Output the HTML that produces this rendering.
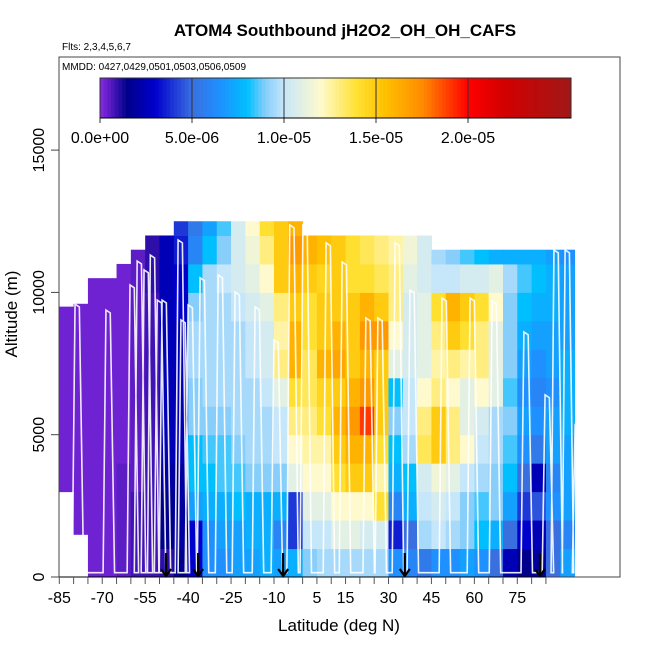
<!DOCTYPE html>
<html><head><meta charset="utf-8"><style>
body{margin:0;background:#fff}
svg{display:block;font-family:"Liberation Sans",sans-serif}
</style></head><body>
<svg id="chart" width="650" height="650" xmlns="http://www.w3.org/2000/svg">
<text x="345" y="36" text-anchor="middle" font-size="17" font-weight="bold">ATOM4 Southbound jH2O2_OH_OH_CAFS</text>
<text x="62" y="50" font-size="10">Flts: 2,3,4,5,6,7</text>
<g id="heat"></g>
<g id="track"></g>
<g id="arrows"></g>
<rect x="59" y="57" width="561" height="520" fill="none" stroke="#444" stroke-width="1"/>
<text x="62" y="70" font-size="10">MMDD: 0427,0429,0501,0503,0506,0509</text>
<g id="cbar"></g>
<g id="xaxis"></g>
<g id="yaxis"></g>
<text x="339" y="631" text-anchor="middle" font-size="17">Latitude (deg N)</text>
<text transform="translate(17,314) rotate(-90)" text-anchor="middle" font-size="17">Altitude (m)</text>
</svg>
<script>
const latStart = [-85,-80,-75,-70,-65,-60,-55,-50,-45,-40,-35,-30,-25,-20,-15,-10,-5,0,5,10,15,20,25,30,35,40,45,50,55,60,65,70,75,80,85,90];
const colTop = [9500,9600,10500,10500,11000,11500,12000,12000,12500,12500,12500,12500,12500,12500,12500,12500,12500,12000,12000,12000,12000,12000,12000,12000,12000,12000,11500,11500,11500,11500,11500,11500,11500,11500,11500,11500];
const colBot = [3000,1500,0,0,0,0,0,0,0,0,0,0,0,0,0,0,0,0,0,0,0,0,0,0,0,0,0,0,0,0,0,0,0,0,0,0];
const rowBase = [0,1000,2000,3000,4000,5000,6000,7000,8000,9000,10000,11000,12000];
const row0=[.3,.3,.3,.3,.5,.8,.8,1,1.5,3,6.5,6.5,7,7,7.5,7,7.5,9,9.5,9.5,9.5,9.5,9.5,6.5,6,5.5,6.5,6.5,7,6.5,5,2.5,1.5,2,5,7];
const row1=[.3,.3,.3,.3,.5,.8,.8,1.5,2,3,6.5,7,7,7.5,7.5,6,4,10,10,11,11,10.5,10.5,3.5,5,9.5,10,9.5,9,8,7.5,5,3,2.5,5,6];
const row2=[.3,.3,.3,.3,.5,.8,.8,1.5,2,7,7.5,7.5,8,7.5,7.5,7.5,4,11,11,12,12,12,14,6,7.5,10,10.5,10,9,8.5,9,7,4,4.5,6.5,7];
const row3=[.3,.3,.3,.3,.5,.5,.8,2,2,8,8,8.5,8.5,9,9,9,11,12,12,14,15,15,12.5,7.5,8,10.5,11.5,11,10,9.5,9,8,5,2.5,6,7];
const row4=[.3,.3,.3,.3,.3,.5,.8,2.5,2.5,8,8.5,8.5,9,9.5,9.5,10,12,12.5,12.5,15,16,16,14,8,9.5,13.5,15,13,12,10,9.5,8.5,6.5,5.5,7,7];
const row5=[.3,.3,.3,.3,.3,.5,.8,2.5,2.5,9,9,9,9.5,9.5,9.5,10,13,13,14,16,17,19,15,9,10,13,15,13,11,10.5,9.5,9,7,6.5,7,7.5];
const row6=[.3,.3,.3,.3,.3,.5,.8,2.5,2.5,9,9.5,9.5,9.5,9.5,10,11,14,13.5,14.5,15,16,17,15,8,10,12,13,12,11,12,11,8.5,6.5,6,6.5,7.5];
const row7=[.3,.3,.3,.3,.3,.5,.8,2.5,2.5,9.5,9.5,9.5,9.5,10,10.5,13,16,13.5,16,16.5,15,16,15,11,10.5,11,12.5,13,12.5,13,11,9,7,6.5,7,7.5];
const row8=[.3,.3,.3,.3,.3,.5,.8,2.5,2.5,9.5,9.5,9.5,9.5,10,10.5,12.5,16,14,15,16,15,17,17,12,10.5,11,13,15,14,13,11,9,7.5,7,7,7];
const row9=[.3,.3,.3,.3,.3,.5,.8,2.5,3,9,9.5,9.5,10,10.5,11,13,15,14,15,15,15,16,15,13,10.5,11,14,16,15,14,12,9,8,7.5,7.5,7];
const row10=[.3,.3,.3,.3,.3,.5,1,2.5,3,8,9.5,10,10.5,11,12,15,16,15,14.5,15,14,14,13.5,13,11,10.5,10,10,10.5,10.5,11,9.5,8.5,8,7.5,7];
const row11=[.3,.3,.3,.3,.3,.5,1,2.5,3.5,6,8,9,10.5,11.5,13,15,17,16,15.5,15,14,13.5,13,12.5,11.5,10.5,9.5,9,8.5,8,7.5,7.5,7.5,7.5,7,6.5];
const row12=[.3,.3,.3,.3,.3,.5,1.2,2.5,4,5.5,7,8.5,10.5,12,14,15,16,15,14.5,13.5,13,13,13,12,11.5,11,10,9,8.5,8,7.5,7.5,7.5,7.5,7,6.5];
const rows=[row0,row1,row2,row3,row4,row5,row6,row7,row8,row9,row10,row11,row12];
const trackLat=[-79.5,-68.7,-60.3,-57.8,-55.4,-53.2,-50.8,-49.1,-43.5,-42.5,-40.0,-35.8,-29.5,-23.6,-16.6,-10.0,-4.5,0.1,8.2,13.8,22.1,26.3,32.3,37.5,48.7,58.5,66.2,77.3,84.7,87.8,91.7,95.2];
const trackAlt=[9590,9380,10260,11100,10790,11310,9730,9730,11840,9030,9560,10510,10610,10010,9490,8330,12370,12370,11740,11070,9100,9100,11740,10080,9800,9800,9700,8610,6400,11490,11490,5340];
const arrowLat=[-47.7,-36.5,-6.8,35.7,82.9];
const xTicks=[-85,-70,-55,-40,-25,-10,5,15,30,45,60,75];
const yTicks=[0,5000,10000,15000];
const cbTicks=[0,5,10,15,20];
const cbLabels=["0.0e+00","5.0e-06","1.0e-05","1.5e-05","2.0e-05"];

const NS="http://www.w3.org/2000/svg";
const X=l=>59.3+(l+85)*2.8625;
const Y=a=>577-a*142.3/5000;
const CB=v=>100+v*18.4;
const CBMAX=25.6;
const stops=[[0,[138,43,226]],[1.5,[0,0,139]],[3,[0,0,205]],[5,[58,111,224]],[6.5,[30,144,255]],[8,[0,191,255]],[9,[135,206,250]],[10,[198,230,250]],[12,[255,250,205]],[14,[255,224,48]],[15.5,[255,192,0]],[17.5,[255,140,0]],[20,[255,0,0]],[22,[210,0,0]],[25.6,[160,24,24]]];
function col(v){v=Math.max(0,Math.min(CBMAX,v));for(let i=1;i<stops.length;i++){if(v<=stops[i][0]){const a=stops[i-1],b=stops[i],t=(v-a[0])/(b[0]-a[0]);const c=a[1].map((x,k)=>Math.round(x+(b[1][k]-x)*t));return `rgb(${c})`;}}return 'rgb(160,24,24)';}
function mk(tag,attrs,parent){const e=document.createElementNS(NS,tag);for(const k in attrs)e.setAttribute(k,attrs[k]);parent.appendChild(e);return e;}

const heat=document.getElementById('heat');
rows.forEach((r,ri)=>{r.forEach((v,ci)=>{
  const lo=Math.max(rowBase[ri],colBot[ci]);const hi=Math.min(rowBase[ri]+1000,colTop[ci]);
  if(v==null||hi<=lo)return;
  const x0=X(latStart[ci]),x1=X(latStart[ci]+5)+0.5;
  const e=mk('rect',{x:x0,y:Y(hi),width:x1-x0,height:Y(lo)-Y(hi)+0.5,fill:col(v)},heat);
  
  
});});

const tr=document.getElementById('track');
let pts=[];
trackLat.forEach((l,i)=>{pts.push(`${X(l-1)},${Y(150)}`);pts.push(`${X(l)},${Y(trackAlt[i])}`);pts.push(`${X(l+1.5)},${Y(trackAlt[i]-100)}`);pts.push(`${X(l+3)},${Y(150)}`);});
const pl=mk('polyline',{points:pts.join(' '),fill:'none',stroke:'#fff','stroke-width':1.6,'stroke-opacity':0.9},tr);



const ar=document.getElementById('arrows');
arrowLat.forEach(l=>{const x=X(l);
  const g=mk('path',{d:`M${x},553 L${x},576 M${x-5},569 L${x},576 L${x+5},569`,stroke:'#000','stroke-width':2.2,fill:'none'},ar);
  
  
});

const cb=document.getElementById('cbar');
for(let v=0;v<CBMAX-0.01;v+=0.2){const w=Math.min(0.2,CBMAX-v);const r=mk('rect',{x:CB(v),y:78,width:18.4*w+0.4,height:40,fill:col(v+0.1)},cb);
  
  }
mk('rect',{x:100,y:78,width:CB(CBMAX)-100,height:40,fill:'none',stroke:'#333','stroke-width':1},cb);
cbTicks.forEach((t,i)=>{const x=CB(t);
  mk('line',{x1:x,y1:78,x2:x,y2:123,stroke:'#333','stroke-width':1},cb);
  const tx=mk('text',{x:x,y:143,'text-anchor':'middle','font-size':16},cb);tx.textContent=cbLabels[i];
  
  });
mk('line',{x1:100,y1:118,x2:CB(CBMAX),y2:118,stroke:'#000','stroke-width':1},cb);

const xa=document.getElementById('xaxis');
mk('line',{x1:X(-85),y1:577,x2:X(85),y2:577,stroke:'#000','stroke-width':1},xa);
for(let l=-85;l<=85;l+=5){mk('line',{x1:X(l),y1:577,x2:X(l),y2:584,stroke:'#555','stroke-width':1},xa);}
xTicks.forEach(t=>{const tx=mk('text',{x:X(t),y:603,'text-anchor':'middle','font-size':16},xa);tx.textContent=t;
  
  });
const ya=document.getElementById('yaxis');
yTicks.forEach(t=>{const y=Y(t);mk('line',{x1:51,y1:y,x2:59,y2:y,stroke:'#444','stroke-width':1},ya);
  const tx=mk('text',{transform:`translate(44,${y}) rotate(-90)`,'text-anchor':'middle','font-size':16},ya);tx.textContent=t;
  
  });
</script>
</body></html>
